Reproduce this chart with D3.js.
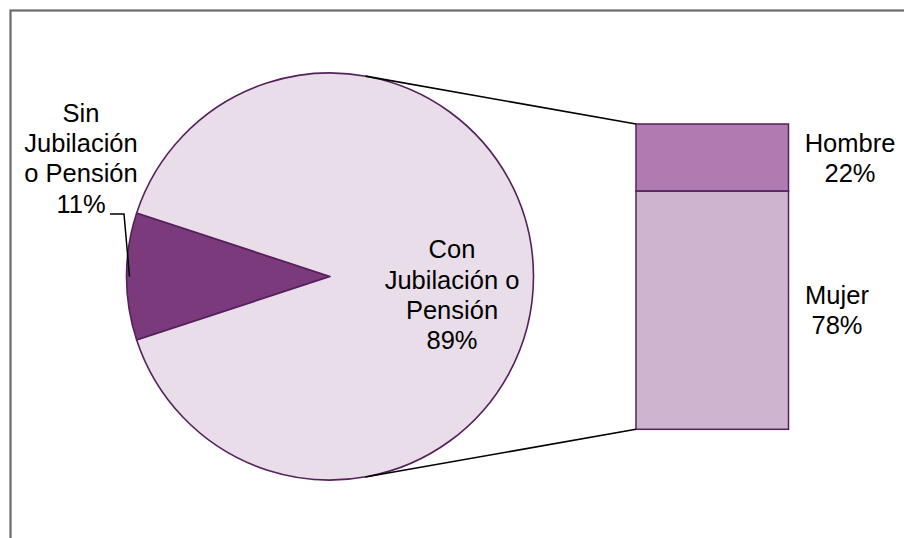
<!DOCTYPE html>
<html>
<head>
<meta charset="utf-8">
<script src="https://cdn.jsdelivr.net/npm/d3@7"></script>
<style>
  html, body { margin: 0; padding: 0; background: #fff; }
  svg { display: block; }
  text { font-family: "Liberation Sans", Arial, sans-serif; fill: #000; }
</style>
</head>
<body>
<svg id="chart" width="904" height="538"></svg>
<script>
// ---- Data ----
const pieCategories = ["Sin Jubilación o Pensión", "Con Jubilación o Pensión"];
const pieValues = [10.1, 89.9];
const pieLabelLines = [["Sin", "Jubilación", "o Pensión", "11%"], ["Con", "Jubilación o", "Pensión", "89%"]];
const barCategories = ["Hombre", "Mujer"];
const barValues = [22, 78];
const barLabelLines = [["Hombre", "22%"], ["Mujer", "78%"]];

// ---- Layout ----
const W = 904, H = 538;
const cx = 330, cy = 276.5, R = 203.5;
const barX0 = 636, barX1 = 788.5, barTop = 124, barBottom = 429.3;
const fontSize = 25.5, lineH = 30.3;
const pieColors = ["#7b3a7c", "#e8dde9"];
const barColors = ["#b07bb1", "#cfb4d0"];
const edge = "#55205b";

const svg = d3.select("#chart");

// frame
svg.append("rect")
  .attr("x", 10.5).attr("y", 10.5)
  .attr("width", W + 20).attr("height", H + 20)
  .attr("fill", "none").attr("stroke", "#6b6b6b").attr("stroke-width", 2.2);

// ---- Pie ----
const total = d3.sum(pieValues);
const aSmall = 2 * Math.PI * pieValues[0] / total;
const start = 3 * Math.PI / 2 - aSmall / 2;
const pie = d3.pie().sort(null).value(d => d).startAngle(start).endAngle(start + 2 * Math.PI);
const arcs = pie(pieValues);
const arc = d3.arc().innerRadius(0).outerRadius(R);

const gPie = svg.append("g").attr("transform", `translate(${cx},${cy})`);
gPie.selectAll("path").data(arcs).join("path")
  .attr("d", arc)
  .attr("fill", (d, i) => pieColors[i])
  .attr("stroke", edge).attr("stroke-width", 1.6)
  .attr("stroke-linejoin", "round");

// ---- Bar (stacked) ----
const y = d3.scaleLinear().domain([0, d3.sum(barValues)]).range([barTop, barBottom]);
let acc = 0;
const stacks = barValues.map((v, i) => { const s = { i, y0: acc, y1: acc + v }; acc += v; return s; });
svg.selectAll("rect.bar").data(stacks).join("rect")
  .attr("class", "bar")
  .attr("x", barX0).attr("width", barX1 - barX0)
  .attr("y", d => y(d.y0)).attr("height", d => y(d.y1) - y(d.y0))
  .attr("fill", d => barColors[d.i])
  .attr("stroke", edge).attr("stroke-width", 1.5);

// ---- Connector lines (tangent from bar corners to pie) ----
function tangentPoint(px, py, sign) {
  const dx = px - cx, dy = py - cy;
  const d = Math.hypot(dx, dy);
  const base = Math.atan2(dy, dx);
  const off = Math.acos(R / d);
  const a = base + sign * off;
  return [cx + R * Math.cos(a), cy + R * Math.sin(a)];
}
const corners = [[barX0, y(0), -1], [barX0, y(d3.sum(barValues)), 1]];
corners.forEach(([px, py, s]) => {
  const t = tangentPoint(px, py, s);
  svg.append("line")
    .attr("x1", t[0]).attr("y1", t[1]).attr("x2", px).attr("y2", py)
    .attr("stroke", "#000").attr("stroke-width", 1.6);
});

// ---- Labels ----
function multiLine(x, yBase, lines, anchor) {
  const t = svg.append("text")
    .attr("text-anchor", anchor || "middle")
    .attr("font-size", fontSize);
  lines.forEach((ln, k) => {
    t.append("tspan").attr("x", x).attr("y", yBase + k * lineH).text(ln);
  });
  return t;
}
multiLine(81, 121.7, pieLabelLines[0]);
multiLine(452, 258.3, pieLabelLines[1]);
multiLine(850, 151.7, barLabelLines[0]);
multiLine(837, 304, barLabelLines[1]);

// leader line for small slice label
const mid = (arcs[0].startAngle + arcs[0].endAngle) / 2;
const lx = cx + (R - 3) * Math.sin(mid), ly = cy - (R - 3) * Math.cos(mid);
svg.append("path")
  .attr("d", `M110,214 L124,214 L${lx},${ly}`)
  .attr("fill", "none").attr("stroke", "#000").attr("stroke-width", 1.5);
</script>
</body>
</html>
